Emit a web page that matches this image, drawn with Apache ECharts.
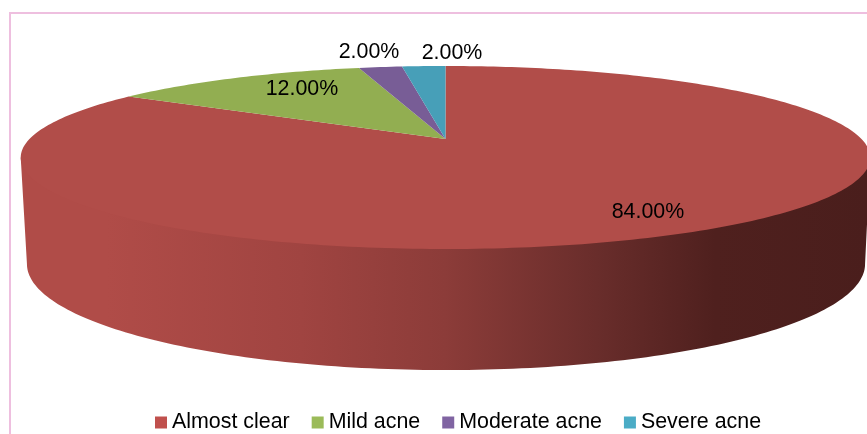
<!DOCTYPE html>
<html>
<head>
<meta charset="utf-8">
<title>Acne severity</title>
<script src="https://cdn.jsdelivr.net/npm/echarts@6/dist/echarts.min.js"></script>
<style>
  html, body { margin: 0; padding: 0; background: #fff; }
  #chart { width: 867px; height: 434px; }
</style>
</head>
<body>
<div id="chart"></div>
<script>
const categories = ['Almost clear', 'Mild acne', 'Moderate acne', 'Severe acne']
const percents = [84, 12, 2, 2]
const legendColors = ['#c0504d', '#9bbb59', '#8064a2', '#4bacc6']
const topColors = ['#b14d49', '#92ae51', '#785d96', '#479fb8']

// pie tilt: one projected circle for the top face, one for the lower rim
const perspective = 0.2022
const topDisc = { cx: 445.5, cy: 139, a: 416, b: 87.76 }
const lowDisc = { cx: 446, cy: 242.6, a: 410.4, b: 101.7 }
const labelSpots = [[648, 212], [302, 89], [369, 52], [452, 53]]

function project(disc, deg, r) {
  let t = deg * Math.PI / 180
  let x = Math.sin(t) * r
  let y = Math.cos(t) * r
  let w = 1 + perspective * y
  return [disc.cx + disc.a * x / w, disc.cy - disc.b * y / w]
}

function arc(disc, from, to, r) {
  let pts = []
  let n = Math.max(2, Math.ceil(Math.abs(to - from)))
  for (let i = 0; i <= n; i++) {
    pts.push(project(disc, from + (to - from) * i / n, r))
  }
  return pts
}

const total = percents.reduce((a, b) => a + b, 0)

function renderSlice(index) {
  let before = percents.slice(0, index).reduce((a, b) => a + b, 0)
  let from = before / total * 360
  let to = (before + percents[index]) / total * 360
  let children = []

  // wall only shows on the front, between the two side tangents
  let edge = Math.acos(-perspective) * 180 / Math.PI
  let wallFrom = Math.max(from, edge)
  let wallTo = Math.min(to, 360 - edge)
  if (wallTo > wallFrom) {
    // wall's upper edge runs under the top face so no light seam shows
    let upper = [project(topDisc, wallFrom, 1)]
      .concat(arc(topDisc, wallFrom, wallTo, 0.97))
      .concat([project(topDisc, wallTo, 1)])
    children.push({
      type: 'polygon',
      shape: { points: upper.concat(arc(lowDisc, wallTo, wallFrom, 1)) },
      style: {
        fill: new echarts.graphic.LinearGradient(22, 0, 867, 0, [
          { offset: 0, color: '#b04c48' },
          { offset: 0.1, color: '#b04c48' },
          { offset: 0.33, color: '#a04441' },
          { offset: 0.5, color: '#8c3c39' },
          { offset: 0.68, color: '#692d2b' },
          { offset: 0.82, color: '#4f201e' },
          { offset: 1, color: '#4a1e1c' }
        ], true)
      }
    })
  }

  children.push({
    type: 'polygon',
    shape: { points: [[topDisc.cx, topDisc.cy]].concat(arc(topDisc, from, to, 1)) },
    style: { fill: topColors[index] }
  })
  children.push({
    type: 'text',
    z2: 10,
    style: {
      x: labelSpots[index][0],
      y: labelSpots[index][1],
      text: percents[index].toFixed(2) + '%',
      fill: '#000',
      font: '21.4px "Liberation Sans"',
      align: 'center',
      verticalAlign: 'middle'
    }
  })
  return { type: 'group', children: children }
}

let chart = echarts.init(document.getElementById('chart'))
chart.setOption({
  animation: false,
  backgroundColor: '#fff',
  legend: {
    left: 155,
    top: 412,
    itemWidth: 12,
    itemHeight: 12,
    itemGap: 22,
    padding: 0,
    icon: 'rect',
    selectedMode: false,
    data: categories,
    textStyle: { color: '#000', fontFamily: 'Liberation Sans', fontSize: 21.4, padding: [0, 0, 0, 0] }
  },
  graphic: [
    { type: 'rect', shape: { x: 9, y: 12, width: 858, height: 2 }, style: { fill: '#eebfdf' } },
    { type: 'rect', shape: { x: 9, y: 12, width: 2, height: 422 }, style: { fill: '#eebfdf' } }
  ],
  series: categories.map((name, i) => ({
    type: 'custom',
    name: name,
    coordinateSystem: 'none',
    itemStyle: { color: legendColors[i] },
    silent: true,
    renderItem: () => renderSlice(i),
    data: [percents[i]]
  }))
})
</script>
</body>
</html>
